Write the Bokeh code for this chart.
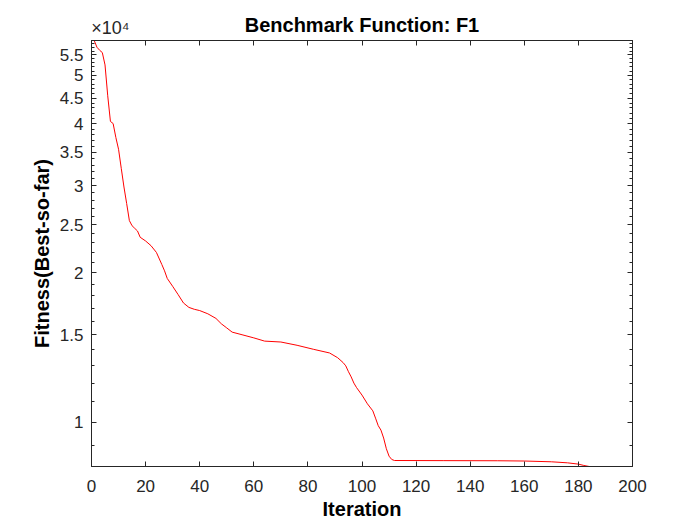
from bokeh.plotting import figure
from bokeh.models import Range1d, FixedTicker, LinearAxis, LogAxis
from bokeh.embed import file_html
from bokeh.resources import INLINE

# Convergence curve (iteration, best-so-far fitness)
iterations = [1, 2, 3, 4, 5, 6, 7, 8, 9, 10, 11, 12, 13, 14, 15, 16, 17, 18,
              20, 22, 24, 26, 27, 28, 30, 32, 34, 36, 38, 40, 43, 46, 48, 50,
              52, 56, 60, 64, 70, 76, 82, 88, 91, 93, 94, 95, 96, 97, 98, 100,
              102, 104, 105, 106, 107, 108, 109, 110, 111, 112, 130, 150, 160,
              170, 176, 180, 182, 184, 200]
fitness = [58800, 57000, 56200, 55600, 52500, 45500, 40400, 40000, 37500, 35500,
           32500, 29800, 27600, 25500, 24900, 24600, 24300, 23600,
           23200, 22700, 22000, 20800, 20200, 19500, 18800, 18100, 17400, 17050,
           16900, 16800, 16550, 16200, 15800, 15500,
           15200, 15000, 14800, 14580, 14520, 14300, 14040, 13800, 13500, 13200,
           13000, 12650, 12350, 12000, 11750, 11350,
           10900, 10550, 10200, 9850, 9650, 9300, 8850, 8550, 8420, 8380, 8375,
           8370, 8360, 8330, 8290, 8240, 8190, 8150, 8150]

x_tick_values = [0, 20, 40, 60, 80, 100, 120, 140, 160, 180, 200]
y_tick_values = [10000, 15000, 20000, 25000, 30000, 35000, 40000, 45000, 50000, 55000]
y_tick_labels = ["1", "1.5", "2", "2.5", "3", "3.5", "4", "4.5", "5", "5.5"]
y_minor_values = list(range(9000, 59000, 1000))

title_text = "Benchmark Function: F1"
x_label = "Iteration"
y_label = "Fitness(Best-so-far)"
exponent_text = "\u00d710\u2074"
exponent_at = 7  # iteration position over which the exponent marker is centred

FONT = "Liberation Sans"
AX = "#262626"

p = figure(width=700, height=525, y_axis_type="log",
           output_backend="svg", toolbar_location=None,
           x_range=Range1d(0, 200),
           y_range=Range1d(min(fitness), max(fitness)),
           min_border_left=91, min_border_right=68,
           min_border_top=40, min_border_bottom=59,
           x_axis_location=None, y_axis_location=None)

p.background_fill_color = "white"
p.border_fill_color = "white"
p.outline_line_color = AX
p.outline_line_width = 1
p.xgrid.visible = False
p.ygrid.visible = False

p.line(iterations, fitness, line_color="#ff0000", line_width=1)

x_ticker = FixedTicker(ticks=x_tick_values)
y_ticker = FixedTicker(ticks=y_tick_values, minor_ticks=y_minor_values)
overrides = {v: s for v, s in zip(y_tick_values, y_tick_labels)}


def style(ax, labels=True):
    ax.axis_line_color = AX
    ax.major_tick_line_color = AX
    ax.minor_tick_line_color = AX
    ax.major_tick_in = 5
    ax.major_tick_out = 0
    ax.minor_tick_in = 3
    ax.minor_tick_out = 0
    ax.major_label_text_font = FONT
    ax.major_label_text_color = AX
    ax.major_label_text_font_size = "17px"
    ax.axis_label_text_font = FONT
    ax.axis_label_text_font_style = "bold"
    ax.axis_label_text_font_size = "20px"
    ax.axis_label_text_color = "black"
    if not labels:
        ax.major_label_text_color = None
        ax.major_label_text_font_size = "0px"
        ax.major_label_standoff = 0


xb = LinearAxis(ticker=x_ticker, axis_label=x_label)
style(xb)
xb.minor_tick_line_color = None
xb.major_label_standoff = 13
xb.axis_label_standoff = 3
p.add_layout(xb, "below")

xt = LinearAxis(ticker=x_ticker)
style(xt, labels=False)
xt.minor_tick_line_color = None
p.add_layout(xt, "above")

# header axis: carries the exponent marker and the chart title, no marks
xh = LinearAxis(ticker=FixedTicker(ticks=[exponent_at]), axis_label=title_text)
style(xh)
xh.axis_line_color = None
xh.major_tick_line_color = None
xh.minor_tick_line_color = None
xh.major_tick_in = 0
xh.major_label_overrides = {exponent_at: exponent_text}
xh.major_label_text_font_size = "18px"
xh.major_label_standoff = 3
xh.axis_label_standoff = -21
p.add_layout(xh, "above")

yl = LogAxis(ticker=y_ticker, axis_label=y_label)
style(yl)
yl.major_label_overrides = overrides
yl.major_label_standoff = 8
yl.axis_label_standoff = 4
p.add_layout(yl, "left")

yr = LogAxis(ticker=y_ticker)
style(yr, labels=False)
p.add_layout(yr, "right")

open("out.html", "w").write(file_html(p, INLINE))
